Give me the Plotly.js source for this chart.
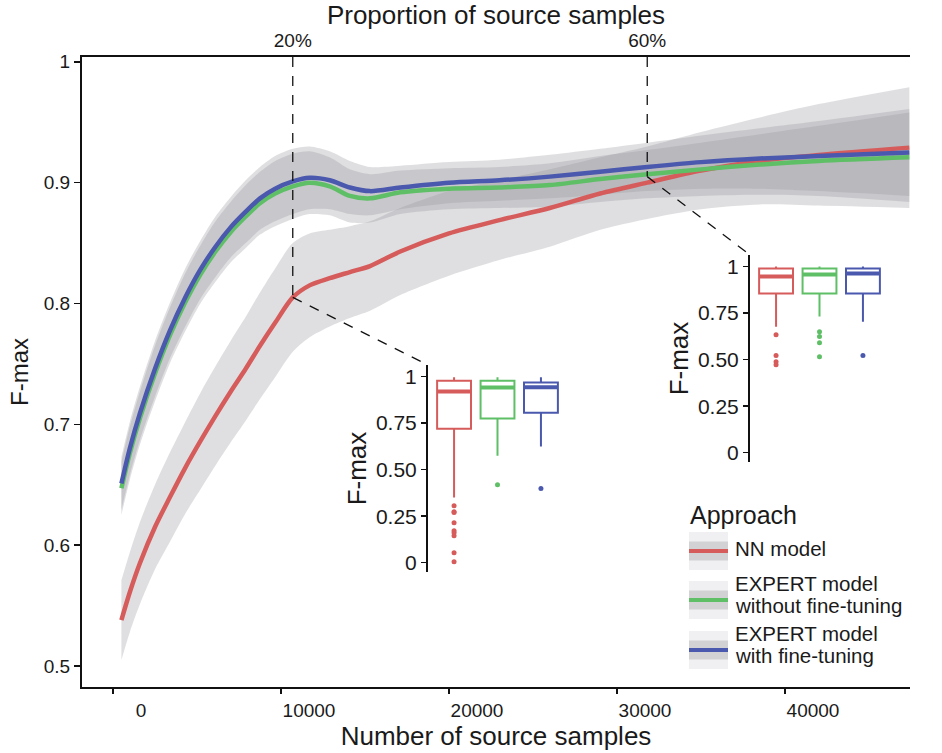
<!DOCTYPE html>
<html>
<head>
<meta charset="utf-8">
<script src="https://cdn.plot.ly/plotly-3.0.1.min.js"></script>
<style>html,body{margin:0;padding:0;background:#fff;}#chart{width:942px;height:753px;}</style>
</head>
<body>
<div id="chart"></div>
<script>
// ---------------- data ----------------
const sampleCounts = [500, 1000, 1600, 2500, 3400, 4300, 5200, 6100, 7000, 7900, 8750, 9650, 10700,
                      11700, 12900, 14100, 15300, 17100, 20000, 23000, 26000, 29000, 31800, 35000, 38500, 42000, 47400];

const nnMean = [0.538, 0.561, 0.585, 0.615, 0.640, 0.664, 0.686, 0.707, 0.727, 0.746, 0.765, 0.784, 0.805,
                0.815, 0.821, 0.826, 0.831, 0.843, 0.858, 0.869, 0.879, 0.891, 0.900, 0.910, 0.918, 0.923, 0.929];
const nnSE   = [0.033, 0.033, 0.034, 0.035, 0.037, 0.038, 0.040, 0.041, 0.042, 0.043, 0.044, 0.045, 0.045,
                0.043, 0.040, 0.038, 0.037, 0.036, 0.035, 0.033, 0.032, 0.030, 0.030, 0.032, 0.036, 0.042, 0.050];

const woMean = [0.647, 0.676, 0.705, 0.742, 0.774, 0.801, 0.824, 0.843, 0.859, 0.872, 0.883, 0.891, 0.897,
                0.900, 0.897, 0.889, 0.887, 0.892, 0.895, 0.896, 0.898, 0.903, 0.907, 0.911, 0.915, 0.918, 0.921];
const woSE   = [0.022, 0.022, 0.022, 0.023, 0.023, 0.024, 0.024, 0.025, 0.025, 0.026, 0.026, 0.027, 0.027,
                0.026, 0.024, 0.022, 0.020, 0.018, 0.017, 0.017, 0.018, 0.019, 0.020, 0.022, 0.025, 0.029, 0.037];

const wMean  = [0.651, 0.680, 0.709, 0.746, 0.778, 0.805, 0.828, 0.847, 0.863, 0.876, 0.887, 0.895, 0.901,
                0.904, 0.902, 0.896, 0.893, 0.896, 0.900, 0.902, 0.905, 0.909, 0.913, 0.917, 0.920, 0.922, 0.925];
const wSE    = [0.022, 0.022, 0.022, 0.023, 0.023, 0.024, 0.024, 0.025, 0.025, 0.026, 0.026, 0.027, 0.027,
                0.026, 0.024, 0.022, 0.020, 0.018, 0.017, 0.017, 0.018, 0.019, 0.020, 0.022, 0.025, 0.029, 0.036];

const seriesNames = ['NN model', 'EXPERT model without fine-tuning', 'EXPERT model with fine-tuning'];
const xTickVals = [0, 10000, 20000, 30000, 40000];
const xTickText = ['0', '10000', '20000', '30000', '40000'];
const yTickVals = [0.5, 0.6, 0.7, 0.8, 0.9, 1.0];
const yTickText = ['0.5', '0.6', '0.7', '0.8', '0.9', '1'];
const propTickVals = [10700, 31800];
const propTickText = ['20%', '60%'];

// inset box statistics (F-max at 20% and 60% of source samples)
const boxPos = [1, 2, 3];
const in20Q1 = [0.720, 0.774, 0.806];
const in20Med = [0.919, 0.941, 0.943];
const in20Q3 = [0.978, 0.978, 0.968];
const in20Lo = [0.350, 0.575, 0.624];
const in20Hi = [0.996, 0.996, 0.996];
const in20Out = [[0.306, 0.274, 0.269, 0.215, 0.172, 0.161, 0.145, 0.054, 0.005], [0.419], [0.398]];

const in60Q1 = [0.855, 0.855, 0.855];
const in60Med = [0.946, 0.957, 0.962];
const in60Q3 = [0.989, 0.989, 0.989];
const in60Lo = [0.677, 0.731, 0.704];
const in60Hi = [1.0, 1.0, 1.0];
const in60Out = [[0.634, 0.522, 0.489, 0.473], [0.650, 0.624, 0.591, 0.516], [0.522]];

const insetTickVals = [0, 0.25, 0.5, 0.75, 1];
const insetTickText = ['0', '0.25', '0.50', '0.75', '1'];

// ---------------- style ----------------
const colors = ['#d65b5b', '#5fbf66', '#4a58ad'];
const bandFill = 'rgba(150,150,156,0.30)';
const FONT = 'Liberation Sans, Arial, Helvetica, sans-serif';
const TXT = '#1a1a1a';
const W = 942, H = 753;
const M = {l: 82, r: 32, t: 57, b: 66};
const pw = W - M.l - M.r, ph = H - M.t - M.b;
const fx = px => (px - M.l) / pw;
const fy = py => (H - M.b - py) / ph;
const xRange = [-1845, 47440];
const yRange = [0.4826, 1.004];

const means = [nnMean, woMean, wMean];
const ses = [nnSE, woSE, wSE];

const traces = [];
// confidence bands
means.forEach((m, k) => {
  traces.push({x: sampleCounts, y: m.map((v, i) => v - ses[k][i]), type: 'scatter', mode: 'lines',
    line: {width: 0, shape: 'spline', smoothing: 0.8}, hoverinfo: 'skip', showlegend: false, xaxis: 'x', yaxis: 'y'});
  traces.push({x: sampleCounts, y: m.map((v, i) => v + ses[k][i]), type: 'scatter', mode: 'lines', fill: 'tonexty',
    fillcolor: bandFill, line: {width: 0, shape: 'spline', smoothing: 0.8}, hoverinfo: 'skip', showlegend: false, xaxis: 'x', yaxis: 'y'});
});
// mean lines
means.forEach((m, k) => {
  traces.push({x: sampleCounts, y: m, type: 'scatter', mode: 'lines', name: seriesNames[k],
    line: {color: colors[k], width: 4.5, shape: 'spline', smoothing: 0.8}, showlegend: false, xaxis: 'x', yaxis: 'y'});
});

// insets
function addInset(xa, ya, q1, med, q3, lo, hi, outs) {
  const bw = 0.78;
  boxPos.forEach((p, k) => {
    traces.push({type: 'box', x: [p], q1: [q1[k]], median: [med[k]], q3: [q3[k]], lowerfence: [lo[k]], upperfence: [hi[k]],
      width: bw, whiskerwidth: 0, boxpoints: false, fillcolor: 'rgba(255,255,255,0)',
      line: {color: colors[k], width: 2}, xaxis: xa, yaxis: ya, showlegend: false, hoverinfo: 'skip'});
    traces.push({type: 'scatter', mode: 'lines', x: [p - bw / 2, p + bw / 2], y: [med[k], med[k]],
      line: {color: colors[k], width: 4}, xaxis: xa, yaxis: ya, showlegend: false, hoverinfo: 'skip'});
    traces.push({type: 'scatter', mode: 'markers', x: outs[k].map(() => p), y: outs[k],
      marker: {color: colors[k], size: 5}, xaxis: xa, yaxis: ya, showlegend: false, hoverinfo: 'skip'});
  });
}
addInset('x2', 'y2', in20Q1, in20Med, in20Q3, in20Lo, in20Hi, in20Out);
addInset('x3', 'y3', in60Q1, in60Med, in60Q3, in60Lo, in60Hi, in60Out);

// inset placement (pixels -> paper)
const in1 = {x0: fx(428), x1: fx(567), y0: fy(572), y1: fy(365)};
const in2 = {x0: fx(750), x1: fx(889), y0: fy(462), y1: fy(255)};
const paperToX = p => xRange[0] + p * (xRange[1] - xRange[0]);
const paperToY = p => yRange[0] + p * (yRange[1] - yRange[0]);

const iNN20 = sampleCounts.indexOf(propTickVals[0]);
const iNN60 = sampleCounts.indexOf(propTickVals[1]);
const dashStyle = {color: '#111', width: 1.3, dash: '10px,9px'};
const shapes = [
  {type: 'line', xref: 'x', yref: 'y', x0: propTickVals[0], x1: propTickVals[0], y0: yRange[1], y1: nnMean[iNN20], line: dashStyle},
  {type: 'line', xref: 'x', yref: 'y', x0: propTickVals[1], x1: propTickVals[1], y0: yRange[1], y1: nnMean[iNN60] + 0.005, line: dashStyle},
  {type: 'line', xref: 'x', yref: 'y', x0: propTickVals[0], y0: nnMean[iNN20], x1: paperToX(in1.x0), y1: paperToY(in1.y1), line: dashStyle},
  {type: 'line', xref: 'x', yref: 'y', x0: propTickVals[1], y0: nnMean[iNN60] + 0.005, x1: paperToX(in2.x0), y1: paperToY(in2.y1), line: dashStyle}
];

// manual legend
const annotations = [
  {xref: 'paper', yref: 'paper', x: fx(688), y: fy(515), xanchor: 'left', yanchor: 'middle', showarrow: false,
   text: 'Approach', font: {family: FONT, size: 25, color: TXT}}
];
const keyTops = [532, 581, 631];
const legendLines = [['NN model'], ['EXPERT model', 'without fine-tuning'], ['EXPERT model', 'with fine-tuning']];
const legendCenters = [[548], [583.5, 605], [633.5, 655]];
keyTops.forEach((t, k) => {
  shapes.push({type: 'rect', xref: 'paper', yref: 'paper', x0: fx(689), x1: fx(728), y0: fy(t + 38), y1: fy(t), fillcolor: '#f0f0f2', line: {width: 0}, layer: 'above'});
  shapes.push({type: 'rect', xref: 'paper', yref: 'paper', x0: fx(689), x1: fx(728), y0: fy(t + 28.5), y1: fy(t + 9.5), fillcolor: '#d2d2d5', line: {width: 0}, layer: 'above'});
  shapes.push({type: 'line', xref: 'paper', yref: 'paper', x0: fx(689), x1: fx(728), y0: fy(t + 19), y1: fy(t + 19), line: {color: colors[k], width: 4}, layer: 'above'});
  legendLines[k].forEach((s, j) => {
    annotations.push({xref: 'paper', yref: 'paper', x: fx(734), y: fy(legendCenters[k][j]), xanchor: 'left', yanchor: 'middle',
      showarrow: false, text: s, font: {family: FONT, size: 20.5, color: TXT}, borderpad: 0});
  });
});

const insetY = (dom) => ({domain: dom, range: [-0.05, 1.062], tickvals: insetTickVals, ticktext: insetTickText,
  showline: true, linecolor: '#111', linewidth: 2, ticks: 'outside', ticklen: 5, tickwidth: 1.5, tickcolor: '#111',
  showgrid: false, zeroline: false, tickfont: {family: FONT, size: 21, color: TXT},
  title: {text: 'F-max', font: {family: FONT, size: 26, color: TXT}, standoff: 2}});
const insetX = (dom, anchor) => ({domain: dom, range: [0.4, 3.6], showline: false, showticklabels: false, ticks: '',
  showgrid: false, zeroline: false, anchor: anchor});

const layout = {
  width: W, height: H, margin: M, paper_bgcolor: '#fff', plot_bgcolor: 'rgba(0,0,0,0)',
  font: {family: FONT, color: TXT}, showlegend: false,
  xaxis: {domain: [0, 1], range: xRange, tickvals: xTickVals, ticktext: xTickText, ticklabelshift: 28,
    showline: true, linecolor: '#111', linewidth: 2, ticks: 'outside', ticklen: 5, tickwidth: 1.5, tickcolor: '#111',
    showgrid: false, zeroline: false, tickfont: {family: FONT, size: 19, color: TXT},
    title: {text: 'Number of source samples', font: {family: FONT, size: 26, color: TXT}, standoff: 6}},
  yaxis: {domain: [0, 1], range: yRange, tickvals: yTickVals, ticktext: yTickText,
    showline: true, linecolor: '#111', linewidth: 2, ticks: 'outside', ticklen: 6, tickwidth: 1.5, tickcolor: '#111',
    showgrid: false, zeroline: false, tickfont: {family: FONT, size: 19, color: TXT},
    title: {text: 'F-max', font: {family: FONT, size: 24, color: TXT}, standoff: 8}},
  xaxis4: {overlaying: 'x', side: 'top', anchor: 'y', range: xRange, tickvals: propTickVals, ticktext: propTickText,
    showline: true, linecolor: '#111', linewidth: 2, ticks: '', showgrid: false, zeroline: false,
    tickfont: {family: FONT, size: 19, color: TXT},
    title: {text: 'Proportion of source samples', font: {family: FONT, size: 26, color: TXT}, standoff: 4}},
  xaxis2: insetX([in1.x0, in1.x1], 'y2'),
  yaxis2: Object.assign(insetY([in1.y0, in1.y1]), {anchor: 'x2'}),
  xaxis3: insetX([in2.x0, in2.x1], 'y3'),
  yaxis3: Object.assign(insetY([in2.y0, in2.y1]), {anchor: 'x3'}),
  shapes: shapes, annotations: annotations
};

// invisible point that activates the top (proportion) axis
traces.push({x: [xRange[0]], y: [yRange[0]], xaxis: 'x4', yaxis: 'y', type: 'scatter', mode: 'markers',
  marker: {opacity: 0}, showlegend: false, hoverinfo: 'skip'});

Plotly.newPlot('chart', traces, layout, {displayModeBar: false, staticPlot: true});
</script>
</body>
</html>
